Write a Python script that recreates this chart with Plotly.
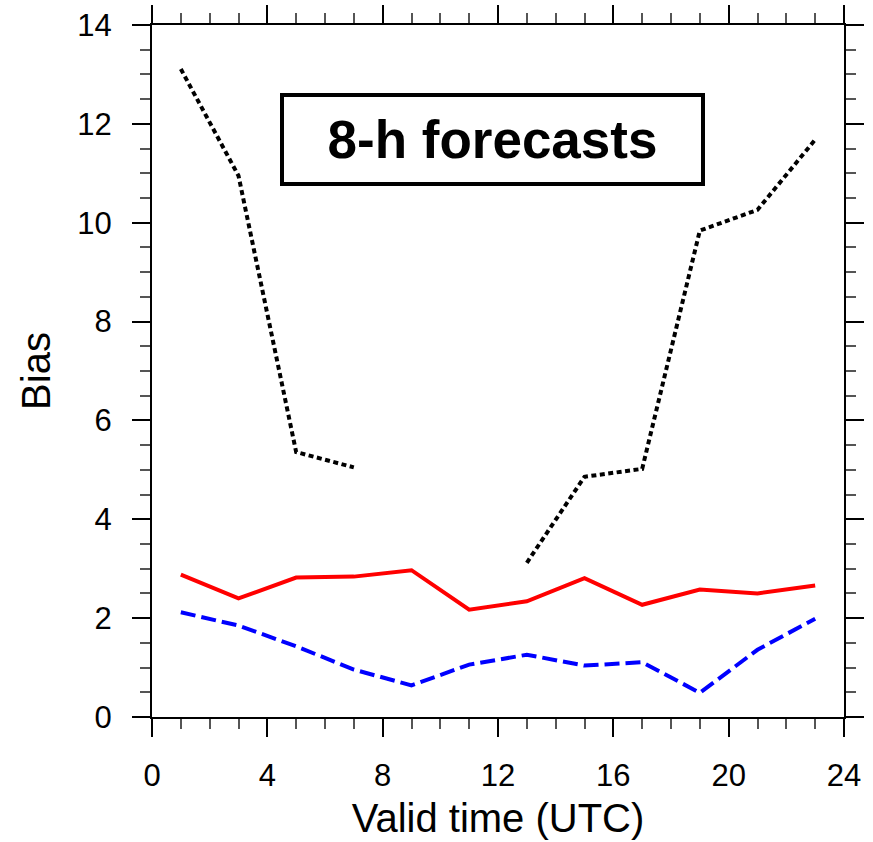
import plotly.graph_objects as go

# Valid times (UTC) of the 8-h forecasts
valid_hours = [1, 3, 5, 7, 9, 11, 13, 15, 17, 19, 21, 23]

# Bias of each forecast system
bias_red = [2.88, 2.40, 2.82, 2.84, 2.97, 2.17, 2.34, 2.81, 2.27, 2.58, 2.50, 2.66]
bias_blue = [2.12, 1.85, 1.43, 0.96, 0.64, 1.06, 1.26, 1.04, 1.11, 0.49, 1.36, 1.99]
bias_black = [13.11, 10.95, 5.36, 5.05, None, None, 3.12, 4.86, 5.02, 9.84, 10.26, 11.68]

x_ticks = [0, 4, 8, 12, 16, 20, 24]
y_ticks = [0, 2, 4, 6, 8, 10, 12, 14]

FONT = "Liberation Sans, Arial, Helvetica, sans-serif"

fig = go.Figure()
fig.add_trace(go.Scatter(x=valid_hours, y=bias_black, mode="lines",
                         line=dict(color="black", width=4, dash="5px,3.5px"),
                         connectgaps=False))
fig.add_trace(go.Scatter(x=valid_hours, y=bias_red, mode="lines",
                         line=dict(color="#ff0000", width=4)))
fig.add_trace(go.Scatter(x=valid_hours, y=bias_blue, mode="lines",
                         line=dict(color="#0000ff", width=4, dash="15px,6px")))

axis_common = dict(
    showline=True, linecolor="black", linewidth=2,
    mirror="allticks", ticks="outside", ticklen=18, tickwidth=2,
    tickcolor="black", showgrid=False, zeroline=False, automargin=False,
    tickfont=dict(family=FONT, size=31, color="black"),
)

fig.update_xaxes(
    range=[0, 24], tickvals=x_ticks, ticktext=[str(v) for v in x_ticks],
    minor=dict(dtick=1, ticks="outside", ticklen=10, tickwidth=1.5,
               tickcolor="#555", showgrid=False),
    title=dict(text="Valid time (UTC)", font=dict(family=FONT, size=40, color="black"),
               standoff=12),
    ticklabelstandoff=12,
    **axis_common,
)
fig.update_yaxes(
    range=[0, 14], tickvals=y_ticks, ticktext=[str(v) for v in y_ticks],
    minor=dict(dtick=0.5, ticks="outside", ticklen=10, tickwidth=1.5,
               tickcolor="#555", showgrid=False),
    title=dict(text="Bias", font=dict(family=FONT, size=40, color="black"),
               standoff=14),
    ticklabelstandoff=14,
    **axis_common,
)

fig.add_annotation(
    x=0.4924, y=0.8347, xref="paper", yref="paper",
    xanchor="center", yanchor="middle",
    text="<b>8-h forecasts</b>", showarrow=False,
    font=dict(family=FONT, size=53, color="black"),
    bordercolor="black", borderwidth=4, borderpad=14,
    bgcolor="white", width=389, height=57,
)

fig.update_layout(
    width=873, height=842,
    margin=dict(l=152, r=29, t=25, b=125),
    paper_bgcolor="white", plot_bgcolor="white",
    showlegend=False,
)

fig.write_html("out.html")
